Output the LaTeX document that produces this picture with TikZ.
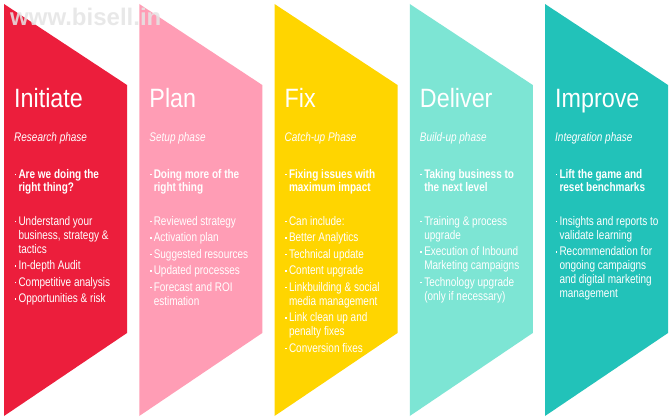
\documentclass[tikz,border=0pt]{standalone}
\usepackage{fontspec}
\setmainfont{Liberation Sans}[FakeStretch=0.8]
\newfontfamily\titlefont{Liberation Sans}[FakeStretch=0.88]
\newfontfamily\markfont{Liberation Sans}
\definecolor{cRed}{HTML}{EC1E3C}
\definecolor{cPink}{HTML}{FF9DB5}
\definecolor{cYellow}{HTML}{FFD500}
\definecolor{cMint}{HTML}{7DE5D4}
\definecolor{cTeal}{HTML}{22C2B9}
\newcommand\bl{\leavevmode\llap{\rule[2.8pt]{1.7pt}{1.7pt}\hspace{2.2pt}}}
\tikzset{
  chev/.style={draw=none},
  ttl/.style={anchor=base west, inner sep=0pt, text=white, font=\titlefont\fontsize{26.5}{26.5}\selectfont},
  phs/.style={anchor=base west, inner sep=0pt, text=white, font=\fontsize{12.5}{14}\selectfont\itshape},
  keypt/.style={anchor=north west, inner sep=0pt, text=white, align=left, font=\fontsize{12.5}{13.5}\selectfont\bfseries},
  lst/.style={anchor=north west, inner sep=0pt, text=white, align=left, font=\fontsize{12.5}{14}\selectfont},
  wmark/.style={anchor=base west, inner sep=0pt, text=black!10, text opacity=0.85, font=\markfont\bfseries\fontsize{24}{24}\selectfont}
}
\begin{document}
\begin{tikzpicture}[x=1pt,y=-1pt]
\useasboundingbox[fill=white] (0,0) rectangle (670,420);
% chevrons
\foreach \L/\c/\n in {4/cRed/s1,139.25/cPink/s2,274.5/cYellow/s3,409.75/cMint/s4,545/cTeal/s5}{
  \fill[chev,\c] (\L,4) -- (\L+123,85) -- (\L+123,333) -- (\L,416) -- cycle;
}
% column 1
\node[ttl] (t1) at (14,107.5) {Initiate};
\node[phs] (p1) at (14,142) {Research phase};
\node[keypt] (k1) at (18.3,168.5) {\strut\bl Are we doing the\\right thing?};
\node[lst] (l1) at (18.3,215.2) {\strut\bl Understand your\\business, strategy \&\\tactics\\[2.5pt]
\bl In-depth Audit\\[2.5pt]\bl Competitive analysis\\[2.5pt]\bl Opportunities \& risk};
% column 2
\node[ttl] (t2) at (149.25,107.5) {Plan};
\node[phs] (p2) at (149.25,142) {Setup phase};
\node[keypt] (k2) at (153.55,168.5) {\strut\bl Doing more of the\\right thing};
\node[lst] (l2) at (153.55,215.2) {\strut\bl Reviewed strategy\\[2.5pt]\bl Activation plan\\[2.5pt]
\bl Suggested resources\\[2.5pt]\bl Updated processes\\[2.5pt]\bl Forecast and ROI\\estimation};
% column 3
\node[ttl] (t3) at (284.5,107.5) {Fix};
\node[phs] (p3) at (284.5,142) {Catch-up Phase};
\node[keypt] (k3) at (288.8,168.5) {\strut\bl Fixing issues with\\maximum impact};
\node[lst] (l3) at (288.8,215.2) {\strut\bl Can include:\\[2.5pt]\bl Better Analytics\\[2.5pt]
\bl Technical update\\[2.5pt]\bl Content upgrade\\[2.5pt]\bl Linkbuilding \& social\\media management\\[2.5pt]
\bl Link clean up and\\penalty fixes\\[2.5pt]\bl Conversion fixes};
% column 4
\node[ttl] (t4) at (419.75,107.5) {Deliver};
\node[phs] (p4) at (419.75,142) {Build-up phase};
\node[keypt] (k4) at (424.05,168.5) {\strut\bl Taking business to\\the next level};
\node[lst] (l4) at (424.05,215.2) {\strut\bl Training \& process\\upgrade\\[2.5pt]
\bl Execution of Inbound\\Marketing campaigns\\[2.5pt]\bl Technology upgrade\\(only if necessary)};
% column 5
\node[ttl] (t5) at (555,107.5) {Improve};
\node[phs] (p5) at (555,142) {Integration phase};
\node[keypt] (k5) at (559.3,168.5) {\strut\bl Lift the game and\\reset benchmarks};
\node[lst] (l5) at (559.3,215.2) {\strut\bl Insights and reports to\\validate learning\\[2.5pt]
\bl Recommendation for\\ongoing campaigns\\and digital marketing\\management};
% watermark
\node[wmark] (wm) at (10,25.5) {www.bisell.in};
\end{tikzpicture}
\end{document}
